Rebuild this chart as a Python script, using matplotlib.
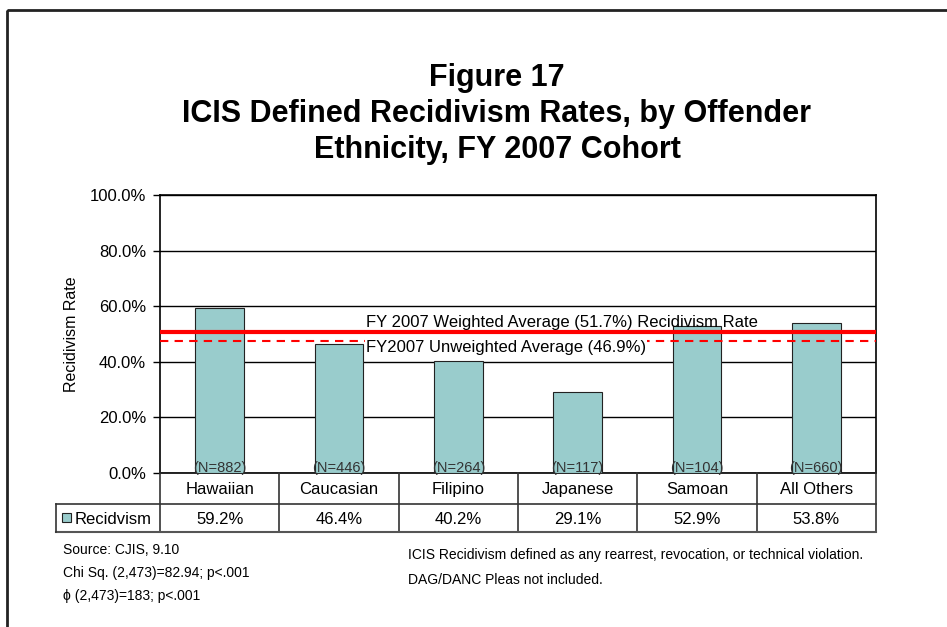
import matplotlib
matplotlib.use('Agg')
import matplotlib.pyplot as plt
from matplotlib.patches import Rectangle
import numpy as np

plt.rcParams['font.family'] = ['Liberation Sans', 'DejaVu Sans']

# ---- data ----
categories = ["Hawaiian", "Caucasian", "Filipino", "Japanese", "Samoan", "All Others"]
rates = [59.2, 46.4, 40.2, 29.1, 52.9, 53.8]
counts = [882, 446, 264, 117, 104, 660]
weighted_line = 50.7      # position of solid red line as drawn
unweighted_line = 47.6    # position of dashed red line as drawn
yticks = [0, 20, 40, 60, 80, 100]
series_name = "Recidvism"
title_lines = ["Figure 17",
               "ICIS Defined Recidivism Rates, by Offender",
               "Ethnicity, FY 2007 Cohort"]
weighted_label = "FY 2007 Weighted Average (51.7%) Recidivism Rate"
unweighted_label = "FY2007 Unweighted Average (46.9%)"
notes_left = ["Source: CJIS, 9.10", "Chi Sq. (2,473)=82.94; p<.001", "\u03d5 (2,473)=183; p<.001"]
notes_right = ["ICIS Recidivism defined as any rearrest, revocation, or technical violation.",
               "DAG/DANC Pleas not included."]

BAR_COLOR = '#99CCCC'
W, H = 947, 627
fig = plt.figure(figsize=(W / 100, H / 100), dpi=100)

L, R, T, B = 160, 876, 195, 473
ax = fig.add_axes([L / W, 1 - B / H, (R - L) / W, (B - T) / H], zorder=2)
x = np.arange(len(categories))
ax.bar(x, rates, width=0.41, color=BAR_COLOR, edgecolor='#222222', linewidth=0.8, zorder=3)
ax.set_xlim(-0.5, len(categories) - 0.5)
ax.set_ylim(0, 100)
ax.set_yticks(yticks)
ax.set_yticklabels([f'{v:.1f}%' for v in yticks], fontsize=12)
ax.yaxis.grid(True, color='black', linewidth=1)
ax.set_axisbelow(True)
ax.set_xticks([])
ax.tick_params(axis='y', length=5, width=1, direction='out', pad=5)
for s in ax.spines.values():
    s.set_linewidth(1.2)
ax.set_facecolor('white')

ax.axhline(weighted_line, color='#FF0000', lw=3, zorder=4)
ax.axhline(unweighted_line, color='#FF0000', lw=1.5, ls=(0, (4, 3)), zorder=4)

for i, n in enumerate(counts):
    ax.text(i, -0.6, f'(N={n})', ha='center', va='bottom', fontsize=10.5, color='#333333', zorder=5)

ax.set_ylabel('Recidivism Rate', fontsize=11.5, labelpad=8)

# overlay axes in pixel coordinates (y downward) for table, title, notes
tab = fig.add_axes([0, 0, 1, 1], zorder=3)
tab.set_xlim(0, W)
tab.set_ylim(H, 0)
tab.axis('off')

# average labels
tab.text(366, 327, weighted_label, fontsize=12, ha='left', va='baseline')
tab.text(366, 352, unweighted_label, fontsize=12, ha='left', va='baseline',
         bbox=dict(facecolor='white', edgecolor='none', pad=0.8))

# ---- data table under the chart ----
def px_x(xd):
    return ax.transData.transform((xd, 0))[0]

row1_top, row1_bot, row2_bot = B, 504, 532
leg_left = 56
bounds = [px_x(i - 0.5) for i in range(len(categories) + 1)]
for bx in bounds:
    tab.plot([bx, bx], [row1_top, row2_bot], color='#333333', lw=1.2)
tab.plot([leg_left, bounds[-1]], [row1_bot, row1_bot], color='#333333', lw=1.2)
tab.plot([leg_left, bounds[-1]], [row2_bot, row2_bot], color='#555555', lw=1.5)
tab.plot([leg_left, leg_left], [row1_bot, row2_bot], color='#333333', lw=1.2)
for i, (c, v) in enumerate(zip(categories, rates)):
    cx = px_x(i)
    tab.text(cx, (row1_top + row1_bot) / 2 + 1, c, ha='center', va='center', fontsize=12)
    tab.text(cx, (row1_bot + row2_bot) / 2 + 1, f'{v:.1f}%', ha='center', va='center', fontsize=12)
tab.add_patch(Rectangle((62, 513), 9, 9, facecolor=BAR_COLOR, edgecolor='#222222', lw=0.8))
tab.text(75, (row1_bot + row2_bot) / 2 + 1, series_name, ha='left', va='center', fontsize=12)

# ---- title ----
for yy, line in zip([78, 114, 150], title_lines):
    tab.text(497, yy, line, ha='center', va='center', fontsize=22, fontweight='bold')

# ---- notes ----
for yy, line in zip([550, 573, 596], notes_left):
    tab.text(63, yy, line, ha='left', va='center', fontsize=10)
for yy, line in zip([555, 580], notes_right):
    tab.text(408, yy, line, ha='left', va='center', fontsize=10)

# outer frame (cut off on the right and bottom)
tab.add_patch(Rectangle((7, 10), W + 10, H + 10, facecolor='none', edgecolor='#222222', lw=2, clip_on=False))

fig.savefig('out.png', dpi=100, facecolor='white')
